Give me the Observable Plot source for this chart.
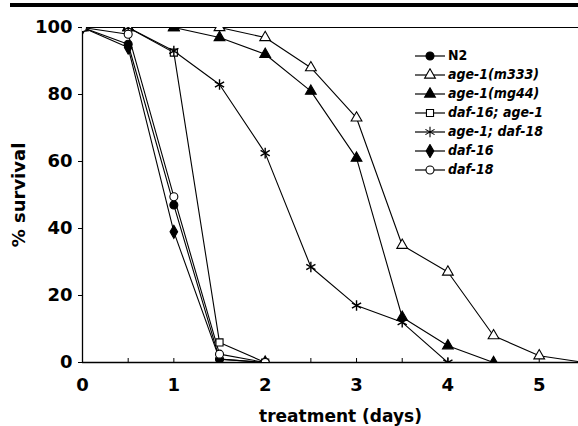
<!DOCTYPE html>
<html>
<head>
<meta charset="utf-8">
<script src="https://cdn.jsdelivr.net/npm/d3@7"></script>
<script src="https://cdn.jsdelivr.net/npm/@observablehq/plot@0.6"></script>
<style>
  body { margin: 0; background: #fff; }
  #wrap { position: relative; width: 578px; height: 426px; font-family: "DejaVu Sans", sans-serif; }
  #bar { position: absolute; left: 10px; right: 0; top: 3px; height: 4px; background: #000; }
  #legend { position: absolute; left: 414px; top: 46px; font-family: "DejaVu Sans Condensed", "DejaVu Sans", sans-serif; font-stretch: condensed; font-weight: bold; font-size: 14px; line-height: 19px; }
  #legend .row { display: flex; align-items: center; height: 19px; }
  #legend svg { margin-right: 2px; }
</style>
</head>
<body>
<div id="wrap"><div id="bar"></div><div id="legend"></div></div>
<script>
const days = [0, 0.5, 1, 1.5, 2, 2.5, 3, 3.5, 4, 4.5, 5, 5.5];
const seriesNames = ["N2", "age-1(m333)", "age-1(mg44)", "daf-16; age-1", "age-1; daf-18", "daf-16", "daf-18"];
const n2        = [100, 95, 47, 1, 0];
const m333      = [100, 100, 100, 100, 97, 88, 73, 35, 27, 8, 2, 0];
const mg44      = [100, 100, 100, 97, 92, 81, 61, 13.5, 5, 0];
const daf16age1 = [100, 100, 92.5, 6, 0];
const age1daf18 = [100, 100, 93, 83, 62.5, 28.5, 17, 12, 0];
const daf16     = [100, 94, 39, 1, 0];
const daf18     = [100, 98, 49.5, 2.5, 0];
const xTicks = [0, 1, 2, 3, 4, 5];
const yTicks = [0, 20, 40, 60, 80, 100];

const values = [n2, m333, mg44, daf16age1, age1daf18, daf16, daf18];
const symbols = ["circle", "triangle", "triangle", "square", "asterisk", "diamond", "circle"];
const filled = [true, false, true, false, false, true, false];
const italic = [false, true, true, true, true, true, true];

const series = seriesNames.map((name, i) => ({
  name, symbol: symbols[i], filled: filled[i],
  data: values[i].map((v, j) => ({day: days[j], survival: v}))
}));

const font = "DejaVu Sans, sans-serif";
const marks = [
  Plot.ruleY([100], {stroke: "#000", strokeWidth: 1}),
  Plot.ruleY([0], {stroke: "#000", strokeWidth: 1.3}),
  Plot.ruleX([0], {stroke: "#000", strokeWidth: 1.3}),
  Plot.axisY({ticks: yTicks, tickSize: 4, tickPadding: 6, fontSize: 18, fontWeight: "bold",
    label: "% survival", labelAnchor: "center", labelArrow: "none", labelOffset: 70}),
  Plot.axisX({ticks: d3.range(0, 5.51, 0.5), tickSize: -4, tickFormat: () => "", label: null}),
  Plot.axisX({ticks: xTicks, tickSize: 0, tickPadding: 16, tickFormat: d3.format("d"), fontSize: 18, fontWeight: "bold", label: null}),
];
for (const s of series) {
  marks.push(Plot.line(s.data, {x: "day", y: "survival", stroke: "#000", strokeWidth: 1.1, clip: true}));
}
for (const s of series) {
  marks.push(Plot.dot(s.data, {
    x: "day", y: "survival", symbol: () => s.symbol, r: s.symbol === "asterisk" ? 5 : 4,
    fill: s.symbol === "asterisk" ? "none" : (s.filled ? "#000" : "#fff"),
    stroke: "#000", strokeWidth: s.symbol === "asterisk" ? 1.4 : 1.1, clip: true
  }));
}
marks.push(Plot.text(["treatment (days)"], {frameAnchor: "bottom", dy: 59, dx: 10, fontSize: 17, fontWeight: "bold"}));

const chart = Plot.plot({
  width: 578, height: 426,
  marginLeft: 82, marginRight: 0, marginTop: 27, marginBottom: 64,
  style: {fontFamily: font, color: "#000", background: "transparent", overflow: "visible"},
  x: {domain: [0, 5.43]},
  y: {domain: [0, 100]},
  symbol: {type: "identity"},
  marks
});
document.getElementById("wrap").prepend(chart);

// legend
const leg = document.getElementById("legend");
series.forEach((s, i) => {
  const row = document.createElement("div");
  row.className = "row";
  const sym = {circle: d3.symbolCircle, triangle: d3.symbolTriangle, square: d3.symbolSquare, asterisk: d3.symbolAsterisk, diamond: d3.symbolDiamond}[s.symbol];
  const r = s.symbol === "asterisk" ? 5 : 4;
  const path = d3.symbol(sym, Math.PI * r * r)();
  const fill = s.symbol === "asterisk" ? "none" : (s.filled ? "#000" : "#fff");
  row.innerHTML = `<svg width="32" height="14" viewBox="0 0 32 14"><line x1="1" x2="31" y1="7" y2="7" stroke="#000" stroke-width="1.2"/><path transform="translate(16,7)" d="${path}" fill="${fill}" stroke="#000" stroke-width="1.1"/></svg><span style="font-style:${italic[i] ? "italic" : "normal"}">${s.name}</span>`;
  leg.appendChild(row);
});
</script>
</body>
</html>
